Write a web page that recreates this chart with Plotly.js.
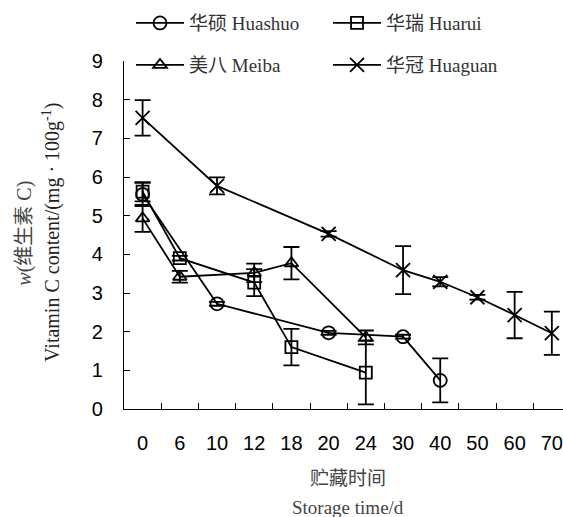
<!DOCTYPE html>
<html>
<head>
<meta charset="utf-8">
<script src="https://cdn.plot.ly/plotly-3.0.1.min.js"></script>
<style>html,body{margin:0;padding:0;background:#fff;}#chart{width:563px;height:517px;}</style>
</head>
<body>
<div id="chart"></div>
<script>
const days = ['0','6','10','12','18','20','24','30','40','50','60','70'];

const huashuoX = ['0','10','20','30','40'];
const huashuoY = [5.55, 2.72, 1.97, 1.87, 0.74];
const huashuoErr = [0.30, 0.05, 0.05, 0.05, 0.57];

const huaruiX = ['0','6','12','18','24'];
const huaruiY = [5.62, 3.90, 3.27, 1.60, 0.94];
const huaruiErr = [0.25, 0.06, 0.35, 0.47, 0.82];

const meibaX = ['0','6','12','18','24'];
const meibaY = [4.93, 3.42, 3.52, 3.77, 1.85];
const meibaErr = [0.35, 0.15, 0.24, 0.42, 0.18];

const huaguanX = ['0','10','20','30','40','50','60','70'];
const huaguanY = [7.53, 5.77, 4.53, 3.59, 3.29, 2.89, 2.43, 1.96];
const huaguanErr = [0.46, 0.22, 0.07, 0.62, 0.12, 0.06, 0.60, 0.56];

const names = ['华硕 Huashuo', '华瑞 Huarui', '美八 Meiba', '华冠 Huaguan'];

function tr(x, y, e, name, symbol, size, legend) {
  return {
    type: 'scatter', mode: 'lines+markers', x: x, y: y, name: name, legend: legend,
    line: {color: '#000', width: 1.8},
    marker: {symbol: symbol, size: size, color: '#000', line: {color: '#000', width: 1.8}},
    error_y: {type: 'data', array: e, visible: true, color: '#000', thickness: 1.8, width: 8}
  };
}

const data = [
  tr(huashuoX, huashuoY, huashuoErr, names[0], 'circle-open', 13, 'legend'),
  tr(huaruiX, huaruiY, huaruiErr, names[1], 'square-open', 12, 'legend'),
  tr(meibaX, meibaY, meibaErr, names[2], 'triangle-up-open', 12, 'legend2'),
  tr(huaguanX, huaguanY, huaguanErr, names[3], 'x-thin-open', 14, 'legend2')
];

const serif = '"Liberation Serif", "Times New Roman", "Noto Sans CJK SC", serif';
const sans = '"Liberation Sans", Arial, sans-serif';

const legendBase = {orientation: 'h', x: 0.016, xanchor: 'left', yanchor: 'middle', itemwidth: 48,
  entrywidth: 134, font: {family: serif, size: 19, color: '#333'}, bgcolor: 'rgba(0,0,0,0)'};

const layout = {
  width: 563, height: 517,
  margin: {l: 124, r: 0, t: 61, b: 108},
  paper_bgcolor: '#fff', plot_bgcolor: '#fff',
  showlegend: true,
  legend: Object.assign({}, legendBase, {y: 1.109}),
  legend2: Object.assign({}, legendBase, {y: 0.9885}),
  xaxis: {
    type: 'category', categoryorder: 'array', categoryarray: days,
    range: [-0.5, 11.3], tickson: 'boundaries', ticks: 'inside', ticklen: 6, tickcolor: '#000',
    showline: true, linecolor: '#000', linewidth: 1.2, showgrid: false, zeroline: false,
    tickfont: {family: sans, size: 20, color: '#000'}, ticklabelstandoff: 16
  },
  yaxis: {
    range: [0, 9], dtick: 1, ticks: 'inside', ticklen: 6, tickcolor: '#000',
    showline: true, linecolor: '#000', linewidth: 1.2, showgrid: false, zeroline: false,
    tickfont: {family: sans, size: 20, color: '#000'}, ticklabelstandoff: 16
  },
  annotations: [
    {text: '贮藏时间', xref: 'paper', yref: 'paper', x: 0.51, y: -0.201, xanchor: 'center', yanchor: 'middle',
     showarrow: false, font: {family: serif, size: 19, color: '#444'}},
    {text: 'Storage time/d', xref: 'paper', yref: 'paper', x: 0.51, y: -0.284, xanchor: 'center', yanchor: 'middle',
     showarrow: false, font: {family: serif, size: 19, color: '#444'}},
    {text: '<i>w</i>(维生素 C)', xref: 'paper', yref: 'paper', x: -0.226, y: 0.506, xanchor: 'center', yanchor: 'middle',
     textangle: -90, showarrow: false, font: {family: serif, size: 20, color: '#444'}},
    {text: 'Vitamin C content/(mg · 100g<sup>-1</sup>)', xref: 'paper', yref: 'paper', x: -0.164, y: 0.506, xanchor: 'center', yanchor: 'middle',
     textangle: -90, showarrow: false, font: {family: serif, size: 20, color: '#222'}}
  ]
};

Plotly.newPlot('chart', data, layout, {staticPlot: true, displayModeBar: false});
</script>
</body>
</html>
